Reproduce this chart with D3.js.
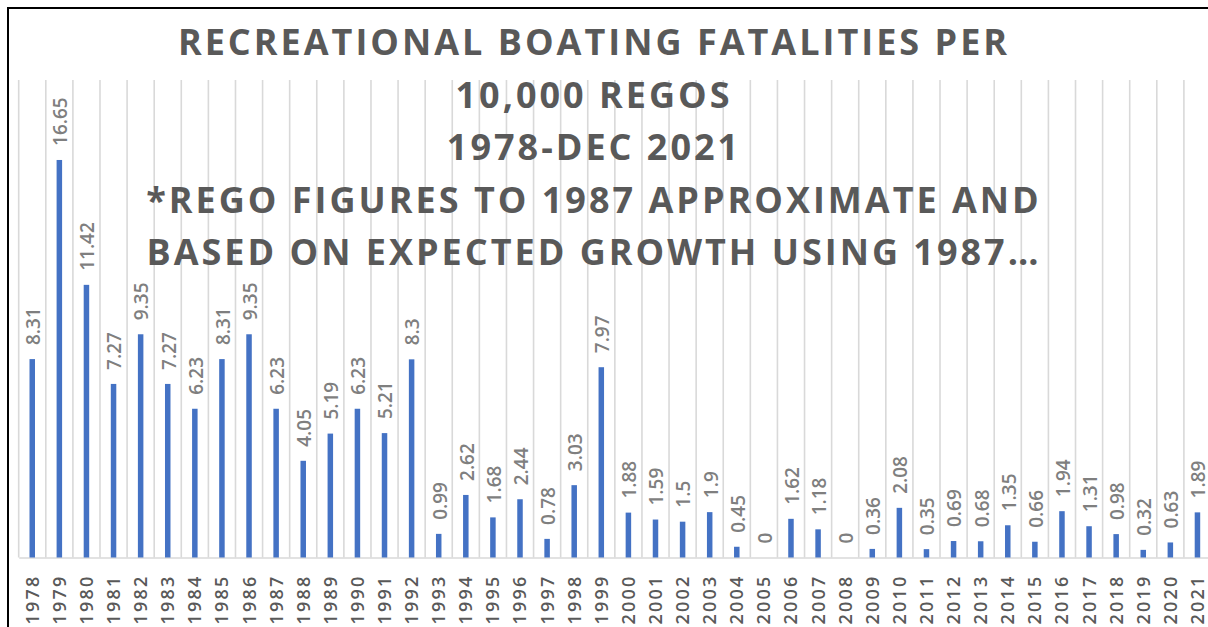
<!DOCTYPE html>
<html>
<head>
<meta charset="utf-8">
<script src="https://cdn.jsdelivr.net/npm/d3@7"></script>
<style>
  html, body { margin: 0; padding: 0; background: #fff; overflow: hidden; }
  svg { display: block; }
</style>
</head>
<body>
<svg id="chart" width="1208" height="627"></svg>
<script>
// Recreational boating fatalities per 10,000 registrations, 1978–2021
const years = ["1978","1979","1980","1981","1982","1983","1984","1985","1986","1987",
  "1988","1989","1990","1991","1992","1993","1994","1995","1996","1997",
  "1998","1999","2000","2001","2002","2003","2004","2005","2006","2007",
  "2008","2009","2010","2011","2012","2013","2014","2015","2016","2017",
  "2018","2019","2020","2021"];
const fatalityRates = [8.31,16.65,11.42,7.27,9.35,7.27,6.23,8.31,9.35,6.23,
  4.05,5.19,6.23,5.21,8.3,0.99,2.62,1.68,2.44,0.78,
  3.03,7.97,1.88,1.59,1.5,1.9,0.45,0,1.62,1.18,
  0,0.36,2.08,0.35,0.69,0.68,1.35,0.66,1.94,1.31,
  0.98,0.32,0.63,1.89];
const titleLines = [
  "RECREATIONAL BOATING FATALITIES PER",
  "10,000 REGOS",
  "1978-DEC 2021",
  "*REGO FIGURES TO 1987 APPROXIMATE AND",
  "BASED ON EXPECTED GROWTH USING 1987…"
];
const yDomain = [0, 20];

const svg = d3.select("#chart");
const plot = { left: 18.7, right: 1211, top: 80, bottom: 557.5 };

const x = d3.scaleBand().domain(years).range([plot.left, plot.right]).paddingInner(0).paddingOuter(0);
const y = d3.scaleLinear().domain(yDomain).range([plot.bottom, plot.top]);
const barW = 5.5;

// outer chart frame
svg.append("rect")
  .attr("x", 8).attr("y", 8).attr("width", 1230).attr("height", 660)
  .attr("fill", "#fff").attr("stroke", "#000").attr("stroke-width", 2);

// vertical gridlines at category boundaries
const bounds = years.map(d => x(d)).concat([x(years[years.length - 1]) + x.bandwidth()]);
svg.append("g").selectAll("line").data(bounds).join("line")
  .attr("x1", d => d).attr("x2", d => d)
  .attr("y1", plot.top).attr("y2", plot.bottom)
  .attr("stroke", "#d9d9d9").attr("stroke-width", 1.6);

// category axis
const xAxis = svg.append("g").attr("transform", `translate(0,${plot.bottom})`)
  .call(d3.axisBottom(x).tickSize(0).tickPadding(0));
xAxis.select(".domain").attr("stroke", "#d9d9d9").attr("stroke-width", 1.6);
xAxis.selectAll("text")
  .attr("transform", "rotate(-90)")
  .attr("x", -17).attr("y", 0).attr("dy", "0.36em")
  .attr("text-anchor", "end")
  .attr("fill", "#595959")
  .style("font-family", "'Open Sans', sans-serif")
  .style("font-weight", "600")
  .style("font-size", "18px")
  .style("letter-spacing", "2.2px");

// bars
svg.append("g").selectAll("rect").data(fatalityRates).join("rect")
  .attr("x", (d, i) => x(years[i]) + x.bandwidth() / 2 - barW / 2)
  .attr("y", d => y(d))
  .attr("width", barW)
  .attr("height", d => y(0) - y(d))
  .attr("fill", "#4472c4");

// value labels
svg.append("g").selectAll("text").data(fatalityRates).join("text")
  .attr("transform", (d, i) => `translate(${x(years[i]) + x.bandwidth() / 2 + 1},${y(d) - 14}) rotate(-90)`)
  .attr("dy", "0.36em")
  .attr("text-anchor", "start")
  .attr("fill", "#7f7f7f")
  .style("font-family", "'Open Sans', sans-serif")
  .style("font-weight", "600")
  .style("font-size", "19px")
  .text(d => String(d));

// title
svg.append("g").selectAll("text").data(titleLines).join("text")
  .attr("x", 594)
  .attr("y", (d, i) => 55 + i * 52.5)
  .attr("text-anchor", "middle")
  .attr("fill", "#595959")
  .style("font-family", "'Open Sans', sans-serif")
  .style("font-weight", "700")
  .style("font-size", "36px")
  .style("letter-spacing", "3px")
  .text(d => d);
</script>
</body>
</html>
